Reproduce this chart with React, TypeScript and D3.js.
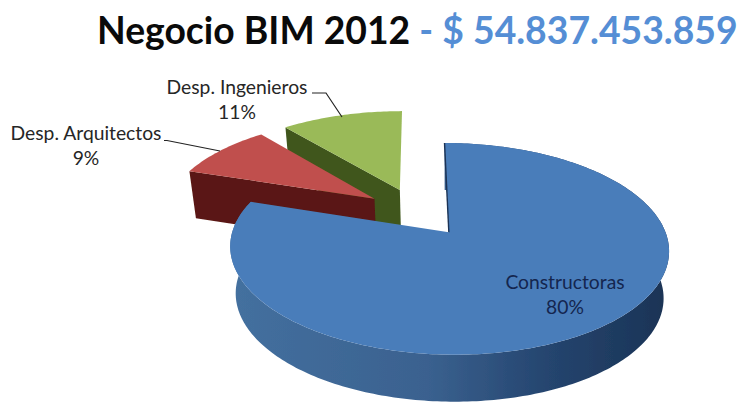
import React from "react";
import * as d3 from "d3";

const categories = ["Constructoras", "Desp. Arquitectos", "Desp. Ingenieros"];
const shares = [80, 9, 11];
const titleMain = "Negocio BIM 2012";
const titleValue = " - $ 54.837.453.859";

const topColors = ["#4a7dba", "#c0504d", "#9aba59"];
const wallColors = ["#2f5480", "#5a1712", "#3f561c"];

// Perspective model of the pie plane
const CX = 417, CY = 212, BX = 210, BY = 97, K = -0.152, EXPLODE = 0.25, DEPTH = 47;
const BASE_SCALE = 0.975, BASE_CX = 450;

type P = [number, number];
const project = (u: number, v: number): P => {
  const w = 1 + K * v;
  return [CX + (BX * u) / w, CY + (BY * v) / w];
};
const drop = ([x, y]: P): P => [BASE_CX + (x - BASE_CX) * BASE_SCALE, y + DEPTH];

const arcs = d3.pie<number>().sort(null).startAngle(0).endAngle(2 * Math.PI)(shares);
const line = d3.line<P>();

const slices = arcs.map((a, i) => {
  const mid = (a.startAngle + a.endAngle) / 2;
  const ou = EXPLODE * Math.sin(mid), ov = -EXPLODE * Math.cos(mid);
  const apex = project(ou, ov);
  const n = Math.ceil(((a.endAngle - a.startAngle) * 180) / Math.PI);
  const rim: P[] = d3.range(n + 1).map((j) => {
    const t = a.startAngle + ((a.endAngle - a.startAngle) * j) / n;
    return project(ou + Math.sin(t), ov - Math.cos(t));
  });
  return { i, apex, rim };
});

const [blue, red, green] = slices;
const closed = (pts: P[]) => line(pts) + "Z";
const topFace = (s: typeof blue) => closed([s.apex, ...s.rim]);
const wallRim = (s: typeof blue) => closed([...s.rim, ...s.rim.map(drop).reverse()]);
// cut face running from the apex to the first point of the rim
const cutStart = (s: typeof blue) => {
  const a = s.rim[0];
  return closed([s.apex, a, drop(a), drop(s.apex)]);
};

const Label = ({ x, y, i, fill }: { x: number; y: number; i: number; fill: string }) => (
  <text x={x} textAnchor="middle" fontFamily="Lato, sans-serif" fontSize={19.3} fill={fill}>
    <tspan x={x} y={y}>{categories[i]}</tspan>
    <tspan x={x} y={y + 25}>{shares[i]}%</tspan>
  </text>
);

export default function App() {
  return (
    <svg
      width={743}
      height={403}
      viewBox="0 0 743 403"
      style={{ position: "absolute", left: 0, top: 0, background: "#fff" }}
    >
      <defs>
        <linearGradient id="blueWall" gradientUnits="userSpaceOnUse" x1={230} x2={670} y1={0} y2={0}>
          <stop offset="0" stopColor="#44709f" />
          <stop offset="0.45" stopColor="#3a618f" />
          <stop offset="0.72" stopColor="#25456f" />
          <stop offset="1" stopColor="#1a3355" />
        </linearGradient>
        <filter id="soft" x="-5%" y="-5%" width="110%" height="110%">
          <feGaussianBlur stdDeviation="0.6" />
        </filter>
      </defs>

      <text x={97} y={44} fontFamily="Lato, sans-serif" fontWeight={700} fontSize={37.3} fill="#0a0a0a">
        {titleMain}
        <tspan fill="#558ed5">{titleValue}</tspan>
      </text>

      <g filter="url(#soft)">
        <path d={cutStart(green)} fill={wallColors[2]} />
        <path d={topFace(green)} fill={topColors[2]} />
        <path d={cutStart(red)} fill={wallColors[1]} />
        <path d={topFace(red)} fill={topColors[1]} />
        <path d={wallRim(blue)} fill="url(#blueWall)" />
        <path d={topFace(blue)} fill={topColors[0]} />
        <path d={line([blue.rim[0], blue.apex]) ?? ""} stroke="#1a3355" strokeWidth={1.4} fill="none" />
      </g>

      <path d="M312,93H326L342,117" fill="none" stroke="#222" strokeWidth={1.2} />
      <path d="M164,140.5H167L220,151" fill="none" stroke="#222" strokeWidth={1.2} />

      <Label x={237} y={94} i={2} fill="#262626" />
      <Label x={86} y={140} i={1} fill="#262626" />
      <Label x={565} y={289} i={0} fill="#14264f" />
    </svg>
  );
}
